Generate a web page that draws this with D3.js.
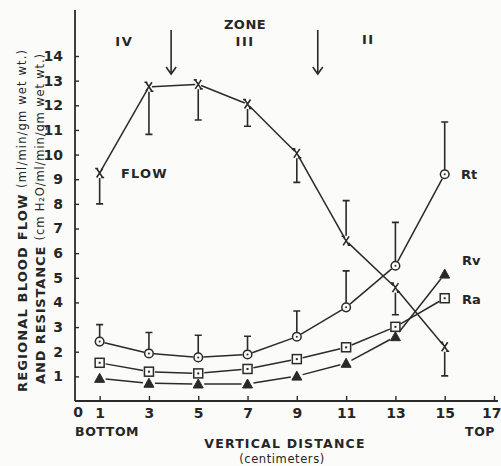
<!DOCTYPE html>
<html>
<head>
<meta charset="utf-8">
<script src="https://cdn.jsdelivr.net/npm/d3@7"></script>
<style>
  body { margin: 0; background: #fbfbf9; }
  svg { display: block; }
  text { font-family: "DejaVu Sans", "Liberation Sans", sans-serif; fill: #262626; }
  .b { font-weight: bold; }
</style>
</head>
<body>
<svg id="chart" width="501" height="466"></svg>
<script>
// distance from bottom of lung (cm)
var xs = [1, 3, 5, 7, 9, 11, 13, 15];
var flow = [9.25, 12.75, 12.85, 12.05, 10.05, 6.5, 4.6, 2.2];
var flowErr = [8.0, 10.82, 11.4, 11.15, 8.87, 8.13, 3.5, 1.02];
var rt = [2.41, 1.93, 1.77, 1.89, 2.61, 3.8, 5.49, 9.2];
var rtErr = [3.1, 2.78, 2.67, 2.63, 3.65, 5.28, 7.25, 11.32];
var ra = [1.55, 1.19, 1.12, 1.3, 1.7, 2.18, 3.01, 4.17];
var rv = [0.92, 0.72, 0.69, 0.69, 1.01, 1.53, 2.61, 5.15];
var xTicks = [1, 3, 5, 7, 9, 11, 13, 15, 17];
var yTicks = [1, 2, 3, 4, 5, 6, 7, 8, 9, 10, 11, 12, 13, 14];
var zoneBounds = [3.9, 9.85];
var zoneNames = ["IV", "III", "II"];
var zoneNameX = [2.0, 6.9, 11.9];

var ink = "#2a2a2a";
var svg = d3.select("#chart");

var x = d3.scaleLinear().domain([0, 17]).range([75, 494]);
var y = d3.scaleLinear().domain([0, 14]).range([401, 56]);

// axes lines (extend past the tick range like the original)
svg.append("line").attr("x1", 75).attr("x2", 75).attr("y1", 10).attr("y2", 401)
    .attr("stroke", ink).attr("stroke-width", 1.8);
svg.append("line").attr("x1", 75).attr("x2", 498).attr("y1", 401).attr("y2", 401)
    .attr("stroke", ink).attr("stroke-width", 1.8);

var xAxis = svg.append("g").attr("transform", "translate(0,401)")
    .call(d3.axisBottom(x).tickValues(xTicks).tickSizeInner(-5).tickSizeOuter(0).tickPadding(14));
var yAxis = svg.append("g").attr("transform", "translate(75,0)")
    .call(d3.axisLeft(y).tickValues(yTicks).tickSizeInner(-4).tickSizeOuter(0).tickPadding(12));
[xAxis, yAxis].forEach(function (g) {
    g.select(".domain").remove();
    g.selectAll(".tick line").attr("stroke", ink).attr("stroke-width", 1.4);
    g.selectAll(".tick text").attr("class", "b").style("font-size", "14px").attr("fill", "#262626");
});
xAxis.selectAll(".tick text").attr("dy", "0.2em");
// last label sits against the page edge
xAxis.selectAll(".tick text").filter(function (d) { return d == 17; })
    .attr("text-anchor", "end").attr("x", 7);

svg.append("text").attr("class", "b").attr("x", 78).attr("y", 417).attr("text-anchor", "middle")
    .style("font-size", "14px").text("0");

// x axis texts
svg.append("text").attr("class", "b").attr("x", 75).attr("y", 436).style("font-size", "12.5px")
    .style("letter-spacing", "0.6px").text("BOTTOM");
svg.append("text").attr("class", "b").attr("x", 465).attr("y", 436).style("font-size", "12.5px")
    .style("letter-spacing", "0.6px").text("TOP");
svg.append("text").attr("class", "b").attr("x", 285).attr("y", 448).attr("text-anchor", "middle")
    .style("font-size", "12.5px").style("letter-spacing", "1.2px").text("VERTICAL  DISTANCE");
svg.append("text").attr("x", 282).attr("y", 463).attr("text-anchor", "middle")
    .style("font-size", "11.5px").style("letter-spacing", "0.6px").text("(centimeters)");

// y axis title (two rotated lines)
var t1 = svg.append("text").attr("transform", "translate(22,221) rotate(-90)")
    .attr("text-anchor", "middle").attr("dominant-baseline", "central")
    .attr("textLength", 342).attr("lengthAdjust", "spacing");
t1.append("tspan").attr("class", "b").style("font-size", "13px").text("REGIONAL BLOOD FLOW ");
t1.append("tspan").style("font-size", "11.5px").text("(ml/min/gm wet wt.)");
var t2 = svg.append("text").attr("transform", "translate(40,219) rotate(-90)")
    .attr("text-anchor", "middle").attr("dominant-baseline", "central")
    .attr("textLength", 330).attr("lengthAdjust", "spacing");
t2.append("tspan").attr("class", "b").style("font-size", "13px").text("AND RESISTANCE ");
t2.append("tspan").style("font-size", "11.5px").text("(cm H₂O/ml/min/gm wet wt.)");

// zones
svg.append("text").attr("class", "b").attr("x", x(zoneNameX[1])).attr("y", 29).attr("text-anchor", "middle")
    .style("font-size", "13px").style("letter-spacing", "0.5px").text("ZONE");
svg.selectAll(".zone").data(zoneNames).enter().append("text")
    .attr("class", "b")
    .attr("x", function (d, i) { return x(zoneNameX[i]); })
    .attr("y", function (d, i) { return i == 2 ? 44 : 46; })
    .attr("text-anchor", "middle").style("font-size", "13px").style("letter-spacing", "1.5px")
    .text(function (d) { return d; });
zoneBounds.forEach(function (b) {
    var cx = x(b);
    svg.append("path")
        .attr("d", "M" + cx + ",30 V74 M" + (cx - 5) + ",67 L" + cx + ",74 L" + (cx + 5) + ",67")
        .attr("fill", "none").attr("stroke", ink).attr("stroke-width", 1.6);
});

// helpers
function segments(vals, gap) {
    var g = svg.append("g");
    for (var i = 0; i < xs.length - 1; i++) {
        var x1 = x(xs[i]), y1 = y(vals[i]), x2 = x(xs[i + 1]), y2 = y(vals[i + 1]);
        var dx = x2 - x1, dy = y2 - y1, len = Math.sqrt(dx * dx + dy * dy);
        g.append("line")
            .attr("x1", x1 + dx / len * gap).attr("y1", y1 + dy / len * gap)
            .attr("x2", x2 - dx / len * gap).attr("y2", y2 - dy / len * gap)
            .attr("stroke", ink).attr("stroke-width", 1.5);
    }
}
function errorBars(vals, ends, gap) {
    svg.append("g").selectAll("path").data(xs).enter().append("path")
        .attr("d", function (d, i) {
            var cx = x(d), y0 = y(vals[i]), y1 = y(ends[i]);
            var s = y1 < y0 ? -1 : 1;
            return "M" + cx + "," + (y0 + s * gap) + " V" + y1 + " M" + (cx - 3.5) + "," + y1 + " H" + (cx + 3.5);
        })
        .attr("fill", "none").attr("stroke", ink).attr("stroke-width", 1.6);
}

segments(flow, 3);
segments(rt, 5);
segments(ra, 6);
segments(rv, 6);
errorBars(flow, flowErr, 5);
errorBars(rt, rtErr, 4.5);

// markers
svg.append("g").selectAll("path").data(xs).enter().append("path")
    .attr("d", function (d, i) {
        var cx = x(d), cy = y(flow[i]);
        return "M" + (cx - 3) + "," + (cy - 4.5) + " L" + (cx + 3) + "," + (cy + 4.5) +
            " M" + (cx + 3) + "," + (cy - 4.5) + " L" + (cx - 3) + "," + (cy + 4.5) +
            " M" + (cx - 4.5) + "," + (cy - 4.5) + " H" + (cx - 1.5) +
            " M" + (cx + 1.5) + "," + (cy + 4.5) + " H" + (cx + 4.5);
    })
    .attr("fill", "none").attr("stroke", ink).attr("stroke-width", 1.6);

var rtG = svg.append("g").selectAll("g").data(xs).enter().append("g")
    .attr("transform", function (d, i) { return "translate(" + x(d) + "," + y(rt[i]) + ")"; });
rtG.append("circle").attr("r", 4.3).attr("fill", "#fbfbf9").attr("stroke", ink).attr("stroke-width", 1.5);
rtG.append("circle").attr("r", 1).attr("fill", ink);

var raG = svg.append("g").selectAll("g").data(xs).enter().append("g")
    .attr("transform", function (d, i) { return "translate(" + x(d) + "," + y(ra[i]) + ")"; });
raG.append("rect").attr("x", -4.5).attr("y", -4.5).attr("width", 9).attr("height", 9)
    .attr("fill", "#fbfbf9").attr("stroke", ink).attr("stroke-width", 1.5);
raG.append("rect").attr("x", -1).attr("y", -1).attr("width", 2).attr("height", 2).attr("fill", ink);

svg.append("g").selectAll("path").data(xs).enter().append("path")
    .attr("transform", function (d, i) { return "translate(" + x(d) + "," + y(rv[i]) + ")"; })
    .attr("d", "M0,-5 L5,4 L-5,4 Z")
    .attr("fill", ink).attr("stroke", ink).attr("stroke-width", 1);

// series labels
svg.append("text").attr("class", "b").attr("x", 121).attr("y", 178).style("font-size", "13px")
    .style("letter-spacing", "1.2px").text("FLOW");
svg.append("text").attr("class", "b").attr("x", 461).attr("y", 179).style("font-size", "13px").text("Rt");
svg.append("text").attr("class", "b").attr("x", 462).attr("y", 265).style("font-size", "13px").text("Rv");
svg.append("text").attr("class", "b").attr("x", 462).attr("y", 304).style("font-size", "13px").text("Ra");
</script>
</body>
</html>
